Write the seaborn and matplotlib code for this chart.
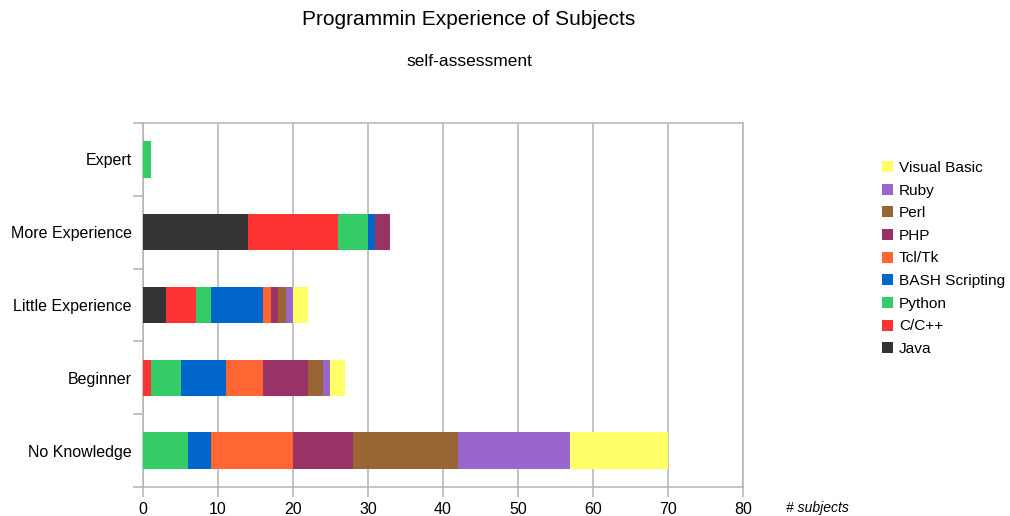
import numpy as np
import pandas as pd
import matplotlib
matplotlib.use("Agg")
import matplotlib.pyplot as plt
from matplotlib.patches import Patch
from matplotlib.ticker import MultipleLocator
import seaborn as sns

# Experience levels (top to bottom) and the languages stacked within each bar
levels = ["Expert", "More Experience", "Little Experience", "Beginner", "No Knowledge"]
languages = ["Java", "C/C++", "Python", "BASH Scripting", "Tcl/Tk",
             "PHP", "Perl", "Ruby", "Visual Basic"]

# Number of subjects per language, one list per experience level
java = [0, 14, 3, 0, 0]
c_cpp = [0, 12, 4, 1, 0]
python = [1, 4, 2, 4, 6]
bash = [0, 1, 7, 6, 3]
tcl_tk = [0, 0, 1, 5, 11]
php = [0, 2, 1, 6, 8]
perl = [0, 0, 1, 2, 14]
ruby = [0, 0, 1, 1, 15]
visual_basic = [0, 0, 2, 2, 13]

colors = ["#333333", "#ff3333", "#33cc66", "#0066cc", "#ff6633",
          "#993366", "#996633", "#9966cc", "#ffff66"]

counts = pd.DataFrame(
    np.array([java, c_cpp, python, bash, tcl_tk, php, perl, ruby, visual_basic]).T,
    index=levels, columns=languages)
cumulative = counts.cumsum(axis=1)

sns.set_theme(style="white")
plt.rcParams["font.family"] = ["Liberation Sans", "DejaVu Sans"]
plt.rcParams["text.color"] = "#000000"

fig = plt.figure(figsize=(10.1, 5.16), dpi=100)
ax = fig.add_axes([0.1416, 0.0562, 0.594, 0.7054])

# Stacked bars: draw running totals from the outermost segment inward
for lang, col in zip(reversed(languages), reversed(colors)):
    df = pd.DataFrame({"level": levels, "value": cumulative[lang].values})
    sns.barplot(data=df, x="value", y="level", order=levels, orient="h",
                color=col, width=0.5, saturation=1, linewidth=0, ax=ax, zorder=3)

grid_col = "#b3b3b3"
ax.set_xlim(0, 80)
ax.set_ylim(4.5, -0.5)
ax.xaxis.set_major_locator(MultipleLocator(10))
ax.grid(axis="x", color=grid_col, linewidth=1.1, zorder=0)
ax.set_axisbelow(True)
for s in ax.spines.values():
    s.set_color(grid_col)
    s.set_linewidth(1.1)

# Category separators as outward ticks on the y axis
ax.set_yticks(np.arange(len(levels)))
ax.set_yticklabels(levels)
ax.set_yticks(np.arange(-0.5, len(levels)), minor=True)
ax.tick_params(axis="y", which="major", length=0, pad=8, labelsize=11.5, labelcolor="#000000")
ax.tick_params(axis="y", which="minor", length=7, width=1.1, color=grid_col, direction="out", left=True)
ax.tick_params(axis="x", which="major", length=7, width=1.1, color=grid_col, direction="out",
               bottom=True, labelsize=11.5, labelcolor="#000000", pad=4)
ax.set_xlabel("")
ax.set_ylabel("")

fig.text(0.8095, 0.016, "# subjects", fontsize=10, style="italic", ha="center", va="center")

fig.text(0.4644, 0.963, "Programmin Experience of Subjects", fontsize=15, ha="center", va="center")
fig.text(0.4644, 0.88, "self-assessment", fontsize=12.5, ha="center", va="center")

handles = [Patch(facecolor=c, edgecolor="none", label=l)
           for l, c in zip(reversed(languages), reversed(colors))]
fig.legend(handles=handles, loc="upper left", bbox_to_anchor=(0.867, 0.7),
           frameon=False, fontsize=11.1, handlelength=0.72, handleheight=0.72,
           handletextpad=0.4, labelspacing=0.56, borderaxespad=0)

fig.savefig("out.png", dpi=100, facecolor="white")
